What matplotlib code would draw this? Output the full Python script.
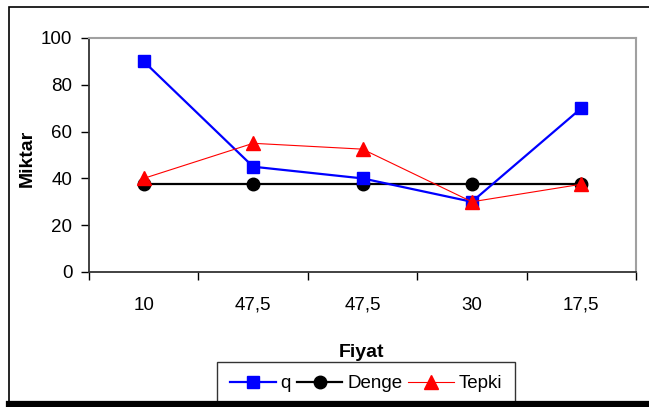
import numpy as np
import matplotlib.pyplot as plt
from matplotlib.patches import Rectangle
from matplotlib.lines import Line2D

plt.rcParams['font.family'] = ['Liberation Sans', 'DejaVu Sans']

fiyat = ["10", "47,5", "47,5", "30", "17,5"]
q = [90, 45, 40, 30, 70]
denge = [37.5, 37.5, 37.5, 37.5, 37.5]
tepki = [40, 55, 52.5, 30, 37.5]

W, H = 649, 407
fig = plt.figure(figsize=(W / 100, H / 100), dpi=100)

# outer chart frame and the heavy line along the bottom
fig.patches.append(Rectangle((9 / W, 1 - 402 / H), 660 / W, 395 / H,
                             transform=fig.transFigure, fill=False,
                             edgecolor='black', linewidth=1.2))
fig.lines.append(Line2D([9 / W, 1], [1 - 404 / H, 1 - 404 / H],
                        transform=fig.transFigure, color='black', linewidth=4.5,
                        zorder=10))

ax = fig.add_axes([89 / W, 1 - 272 / H, (636 - 89) / W, (272 - 38) / H])
x = np.arange(len(fiyat))

ax.plot(x, q, color='#0000ff', linewidth=1.6, marker='s', markersize=9,
        label='q', zorder=3)
ax.plot(x, denge, color='black', linewidth=1.6, marker='o', markersize=9,
        label='Denge', zorder=2)
ax.plot(x, tepki, color='#ff0000', linewidth=0.8, marker='^', markersize=10,
        label='Tepki', zorder=4)

ax.set_xlim(-0.5, len(fiyat) - 0.5)
ax.set_ylim(0, 100)
ax.set_yticks(np.arange(0, 101, 20))
ax.set_xticks(x)
ax.set_xticklabels(fiyat)
ax.set_xticks(np.arange(-0.5, len(fiyat), 1), minor=True)
ax.tick_params(axis='x', which='major', length=0, pad=18, labelsize=13.5)
ax.tick_params(axis='x', which='minor', length=6, width=1, direction='out')
ax.tick_params(axis='y', length=6, width=1, direction='out', labelsize=13.5, pad=6)

for side in ('top', 'right'):
    ax.spines[side].set_color('#a0a0a0')
    ax.spines[side].set_linewidth(1.5)
for side in ('left', 'bottom'):
    ax.spines[side].set_color('#333333')
    ax.spines[side].set_linewidth(1.3)

fig.text(362 / W, 1 - 357 / H, 'Fiyat', fontsize=14, fontweight='bold',
         ha='center', va='baseline')
fig.text(27 / W, 1 - 158 / H, 'Miktar', fontsize=14, fontweight='bold',
         ha='center', va='center', rotation=90)

fig.legend(loc='upper center', bbox_to_anchor=(366 / W, 1 - 362 / H),
           ncol=3, frameon=True, fancybox=False, edgecolor='black',
           fontsize=13.5, handlelength=2.45, handletextpad=0.25, columnspacing=0.3,
           borderpad=0.7, borderaxespad=0)

plt.savefig('out.png', dpi=100)
